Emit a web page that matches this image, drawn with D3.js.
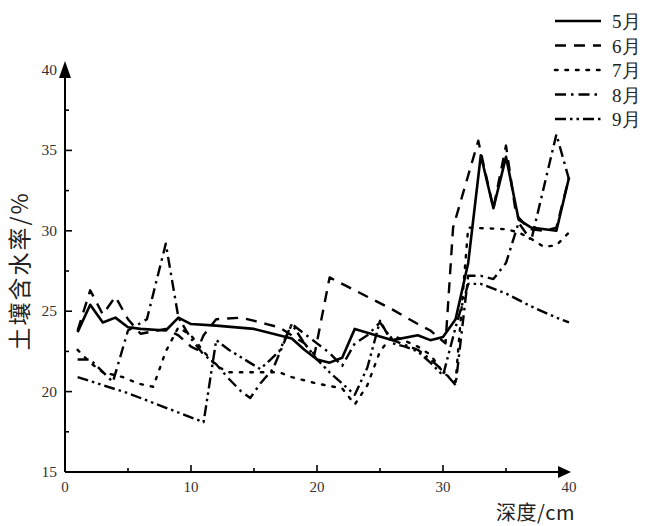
<!DOCTYPE html>
<html><head><meta charset="utf-8">
<script src="https://cdn.jsdelivr.net/npm/d3@7"></script>
<style>body{margin:0;background:#fff}</style>
</head><body><svg id="c" width="645" height="526"></svg>
<script>
// ---- data ----
const monthNames = ["5月","6月","7月","8月","9月"];
const xTicks = [0,10,20,30,40];
const yTicks = [15,20,25,30,35,40];

const may_depth = [1,2,3,4,5,6,8,9,10,12,15,18,19,20,21,22,23,26,28,29,30,31,32,33,34,35,36,37,39,40];
const may_value = [23.7,25.4,24.3,24.6,24.0,23.9,23.8,24.6,24.2,24.1,23.9,23.3,22.6,22.0,21.8,22.1,23.9,23.2,23.5,23.2,23.4,24.5,28.0,34.7,31.4,34.6,30.7,30.2,30.0,33.3];

const jun_depth = [1,2,3,4,5,6,8,9,10,10.5,11,12,14,16,17,18,19,19.8,21,24,26,28,29,30.2,30.8,32.8,34,35,35.8,36.5,37,38,39,40];
const jun_value = [23.8,26.3,24.8,25.9,24.5,23.6,23.9,23.5,22.8,22.6,23.5,24.5,24.6,24.2,24.0,23.5,23.0,22.3,27.1,25.9,25.1,24.2,23.8,23.0,30.2,35.6,31.4,35.3,31.0,30.4,30.1,30.0,30.2,33.3];

const jul_depth = [1,2,3,4.6,5.8,7,8,9,10,11,12,13,15,17,18,20,22,23,24,25,26,28,29,30,31,32,35,36,37,38,39,40];
const jul_value = [22.6,21.8,21.2,20.9,20.5,20.3,22.5,24.0,23.5,22.5,21.6,21.2,21.2,21.2,20.9,20.5,20.2,19.2,20.4,22.5,23.5,22.8,22.3,21.2,20.6,30.2,30.1,29.9,29.5,29.0,29.1,29.9];

const aug_depth = [1,2,3.8,5,6.5,8,9,10,11,12,13,14,14.7,15.5,16.5,18,19,20,21,22,23,24,25,26,27,28,29,30,31,32,33,34,35,36,37,39,40];
const aug_value = [22.0,22.0,20.6,23.8,24.5,29.2,24.6,23.3,22.3,21.7,20.8,20.0,19.6,20.5,21.4,24.2,23.6,23.0,22.4,21.6,23.0,23.5,24.3,23.2,22.9,22.6,22.0,21.3,20.4,27.2,27.2,27.0,28.0,30.5,29.4,36.0,33.2];

const sep_depth = [1,3,5,7,9,11,12,13,15.5,17,18,19,20,21,22,23,24,25,26,27,28,29,30,31,32,33,35,37,39,40];
const sep_value = [20.9,20.4,19.9,19.3,18.7,18.1,23.2,22.6,21.4,22.5,24.2,23.0,22.0,21.2,20.5,19.8,21.5,24.4,23.0,22.8,22.5,21.8,21.0,24.0,26.7,26.7,26.1,25.3,24.6,24.3];

const seriesDepths = [may_depth, jun_depth, jul_depth, aug_depth, sep_depth];
const seriesValues = [may_value, jun_value, jul_value, aug_value, sep_value];
const dashes = [null, "11,8", "2.5,8", "11,5,2.5,5", "11,4,2.5,4,2.5,4"];

// ---- layout ----
const svg = d3.select("#c");
const x = d3.scaleLinear().domain([0,40]).range([65,569]);
const y = d3.scaleLinear().domain([15,40]).range([472,70]);
const serif = "'Liberation Serif','DejaVu Serif',serif";
const cjk = "'Noto Sans CJK SC','Noto Sans CJK JP',sans-serif";

// axes lines
const g = svg.append("g");
g.append("line").attr("x1",x(0)).attr("x2",x(40)-6).attr("y1",y(15)).attr("y2",y(15)).attr("stroke","#000").attr("stroke-width",2);
g.append("line").attr("x1",x(0)).attr("x2",x(0)).attr("y1",y(15)).attr("y2",y(40)+6).attr("stroke","#000").attr("stroke-width",2);
// arrows
g.append("path").attr("d",`M${x(40)+2},${y(15)} L${x(40)-11},${y(15)-6} L${x(40)-11},${y(15)+6} Z`).attr("fill","#000");
g.append("path").attr("d",`M${x(0)},${y(40)-9} L${x(0)-6},${y(40)+8} L${x(0)+6},${y(40)+8} Z`).attr("fill","#000");

// ticks
const xMinor = d3.range(5,40,10);
xTicks.slice(0,-1).forEach(t=>{ if(t>0) g.append("line").attr("x1",x(t)).attr("x2",x(t)).attr("y1",y(15)).attr("y2",y(15)-7).attr("stroke","#000").attr("stroke-width",1.6);});
xMinor.forEach(t=>g.append("line").attr("x1",x(t)).attr("x2",x(t)).attr("y1",y(15)).attr("y2",y(15)-4).attr("stroke","#000").attr("stroke-width",1.6));
const yMinor = d3.range(17.5,40,5);
yTicks.slice(1,-1).forEach(t=>g.append("line").attr("x1",x(0)).attr("x2",x(0)+7).attr("y1",y(t)).attr("y2",y(t)).attr("stroke","#000").attr("stroke-width",1.6));
yMinor.forEach(t=>g.append("line").attr("x1",x(0)).attr("x2",x(0)+4).attr("y1",y(t)).attr("y2",y(t)).attr("stroke","#000").attr("stroke-width",1.6));

// tick labels
xTicks.forEach(t=>g.append("text").attr("x",x(t)).attr("y",y(15)+20).attr("text-anchor","middle").attr("font-family",serif).attr("font-size",15).attr("fill","#333").text(t));
yTicks.forEach(t=>g.append("text").attr("x",x(0)-8).attr("y",y(t)+5).attr("text-anchor","end").attr("font-family",serif).attr("font-size",15.5).attr("fill","#333").text(t));

// axis titles
g.append("text").attr("transform",`translate(28,${(y(15)+y(40))/2}) rotate(-90)`).attr("text-anchor","middle").attr("font-family",cjk).attr("font-size",23).attr("letter-spacing",2).attr("fill","#222").text("土壤含水率/%");
g.append("text").attr("x",575).attr("y",520).attr("text-anchor","end").attr("font-family",cjk).attr("font-size",20).attr("letter-spacing",0.5).attr("fill","#222").text("深度/cm");

// series
const line = d3.line().x(d=>x(d[0])).y(d=>y(d[1]));
seriesDepths.forEach((ds,i)=>{
  const pts = ds.map((d,j)=>[d, seriesValues[i][j]]);
  svg.append("path").datum(pts).attr("d",line).attr("fill","none").attr("stroke","#000")
    .attr("stroke-width", i===0?2.6:2.4).attr("stroke-linejoin","round")
    .attr("stroke-dasharray", dashes[i]).attr("stroke-linecap", i===2?"round":"butt");
});

// legend
const lg = svg.append("g");
monthNames.forEach((m,i)=>{
  const yy = 21 + i*24.5;
  lg.append("line").attr("x1",555).attr("x2",601).attr("y1",yy).attr("y2",yy).attr("stroke","#000").attr("stroke-width",2.6).attr("stroke-dasharray",dashes[i]).attr("stroke-linecap", i===2?"round":"butt");
  lg.append("text").attr("x",612).attr("y",yy+7).attr("font-family",serif).attr("font-size",19).attr("fill","#222").text(m);
});
</script></body></html>
